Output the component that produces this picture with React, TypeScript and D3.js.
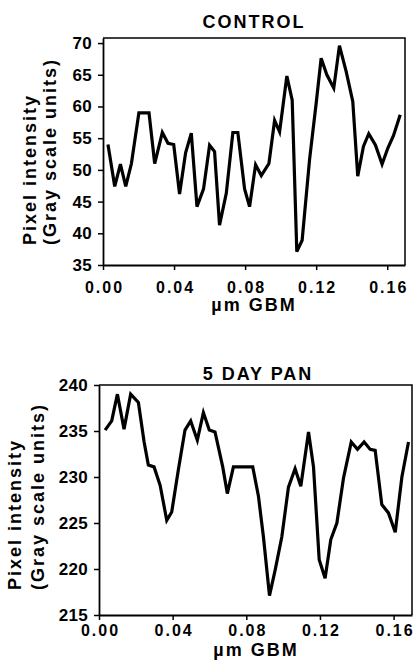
import React, { useEffect, useRef } from "react";
import * as d3 from "d3";

// CONTROL trace (um GBM vs gray level)
const controlX = [0.0028, 0.0066, 0.0098, 0.0128, 0.016, 0.0202, 0.0259, 0.0291, 0.0334, 0.0366, 0.0398, 0.0431, 0.0465, 0.0497, 0.0529, 0.0566, 0.06, 0.0628, 0.0656, 0.0694, 0.0731, 0.0759, 0.0797, 0.0825, 0.0859, 0.0891, 0.0934, 0.0966, 0.0994, 0.1035, 0.1065, 0.1091, 0.1121, 0.1163, 0.12, 0.1228, 0.126, 0.1299, 0.1331, 0.1369, 0.1406, 0.1434, 0.1466, 0.1496, 0.1534, 0.1571, 0.1603, 0.1635, 0.1673];
const controlY = [54, 47.4, 50.9, 47.4, 51, 59, 59, 51, 55.9, 54.2, 54, 46.2, 52.7, 55.8, 44.2, 47, 53.9, 52.9, 41.3, 46.3, 55.9, 55.9, 47, 44.2, 50.8, 49.1, 51, 57.8, 56, 64.8, 61, 37.1, 38.9, 51.7, 60.5, 67.6, 65, 62.9, 69.6, 65.5, 60.8, 49, 53.7, 55.7, 53.9, 50.9, 53.4, 55.4, 58.7];

// 5 DAY PAN trace
const panX = [0.0033, 0.0069, 0.01, 0.0136, 0.0172, 0.0214, 0.0245, 0.0268, 0.0299, 0.0332, 0.0368, 0.0395, 0.0431, 0.0467, 0.0498, 0.0534, 0.0567, 0.0599, 0.063, 0.0672, 0.0697, 0.073, 0.0765, 0.08, 0.0835, 0.0866, 0.0893, 0.0926, 0.0957, 0.0993, 0.1029, 0.1065, 0.1096, 0.1138, 0.1165, 0.1196, 0.1228, 0.1259, 0.1292, 0.1328, 0.137, 0.1404, 0.144, 0.1473, 0.15, 0.1536, 0.1572, 0.1609, 0.1645, 0.1681];
const panY = [235.1, 236.1, 239, 235.2, 239, 238.1, 233.8, 231.3, 231.1, 229.1, 225.3, 226.2, 230.8, 235.1, 236.1, 234, 237, 235.1, 234.9, 231.1, 228.2, 231.1, 231.1, 231.1, 231.1, 227.9, 223.5, 217.1, 219.9, 223.5, 228.9, 230.9, 229, 234.9, 231.1, 221, 219, 223.2, 225, 229.9, 233.8, 233, 233.8, 233, 232.9, 227, 226.1, 224, 230, 233.8];

const xTicks = [0, 0.04, 0.08, 0.12, 0.16];
const controlTicks = [35, 40, 45, 50, 55, 60, 65, 70];
const panTicks = [215, 220, 225, 230, 235, 240];

const FONT = "'Liberation Sans', Arial, Helvetica, sans-serif";

const panels = [
  {
    title: "CONTROL", xs: controlX, ys: controlY, yDomain: [35, 70.8], yTicks: controlTicks,
    left: 103, right: 405, top: 38, bottom: 265,
    titleX: 254, titleY: 28, xPad: 12, xTitleX: 254, xTitleY: 311, yTitleX: [36, 56], yTitleStart: 245,
  },
  {
    title: "5 DAY PAN", xs: panX, ys: panY, yDomain: [215, 240], yTicks: panTicks,
    left: 99, right: 412, top: 385, bottom: 615,
    titleX: 258, titleY: 380, xPad: 5, xTitleX: 256, xTitleY: 656, yTitleX: [21, 44], yTitleStart: 590,
  },
];

export default function App() {
  const svgRef = useRef(null);

  useEffect(() => {
    const svg = d3.select(svgRef.current);
    svg.selectAll("*").remove();

    panels.forEach((p) => {
      const x = d3.scaleLinear().domain([0, 0.17]).range([p.left, p.right]);
      const y = d3.scaleLinear().domain(p.yDomain).range([p.bottom, p.top]);
      const g = svg.append("g");

      // frame top + right
      g.append("path")
        .attr("d", `M${p.left},${p.top}H${p.right}V${p.bottom}`)
        .attr("fill", "none")
        .attr("stroke", "#000")
        .attr("stroke-width", 1.5);

      const xAxis = g.append("g")
        .attr("transform", `translate(0,${p.bottom})`)
        .call(d3.axisBottom(x).tickValues(xTicks).tickFormat(d3.format(".2f")).tickSize(5).tickSizeOuter(0).tickPadding(p.xPad));

      const yAxis = g.append("g")
        .attr("transform", `translate(${p.left},0)`)
        .call(d3.axisLeft(y).tickValues(p.yTicks).tickSize(5).tickSizeOuter(0).tickPadding(6));

      [xAxis, yAxis].forEach((a) => {
        a.select(".domain").attr("stroke-width", 1.8);
        a.selectAll(".tick line").attr("stroke-width", 1.5);
        a.selectAll("text")
          .attr("fill", "#000")
          .style("font-family", FONT)
          .style("font-weight", "bold");
      });
      xAxis.selectAll("text").attr("dx", "1px").style("font-size", "16px").style("letter-spacing", "2px");
      yAxis.selectAll("text").style("font-size", "17px").style("letter-spacing", "0.3px");

      const line = d3.line().x((d) => x(d[0])).y((d) => y(d[1]));
      g.append("path")
        .datum(p.xs.map((v, i) => [v, p.ys[i]]))
        .attr("d", line)
        .attr("fill", "none")
        .attr("stroke", "#000")
        .attr("stroke-width", 3.2)
        .attr("stroke-linejoin", "miter")
        .attr("stroke-miterlimit", 4);

      const txt = (sel) =>
        sel.attr("fill", "#000")
          .style("font-family", FONT)
          .style("font-weight", "bold")
          .style("font-size", "18px")
          .style("letter-spacing", "2px");

      g.append("text").attr("x", p.titleX).attr("y", p.titleY)
        .attr("text-anchor", "middle").text(p.title).call(txt);

      g.append("text").attr("x", p.xTitleX).attr("y", p.xTitleY)
        .attr("text-anchor", "middle").text("\u00b5m GBM").call(txt);

      ["Pixel intensity", "(Gray scale units)"].forEach((s, i) => {
        g.append("text")
          .attr("transform", `translate(${p.yTitleX[i]},${p.yTitleStart}) rotate(-90)`)
          .attr("text-anchor", "start")
          .text(s)
          .call(txt);
      });
    });
  }, []);

  return (
    <svg
      ref={svgRef}
      width={414}
      height={665}
      style={{ position: "absolute", left: 0, top: 0, background: "#fff" }}
    />
  );
}
